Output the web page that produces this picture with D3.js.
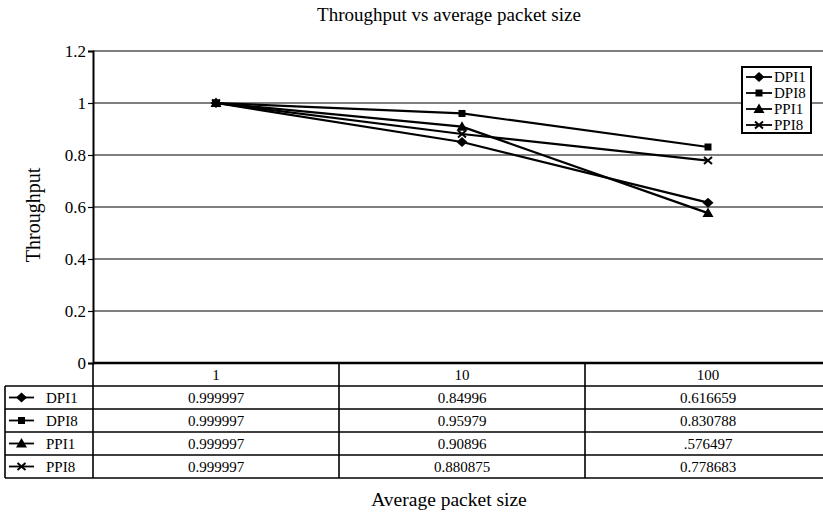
<!DOCTYPE html>
<html><head><meta charset="utf-8">
<script src="https://cdn.jsdelivr.net/npm/d3@7"></script>
<style>body{margin:0;background:#fff}svg{display:block}text{font-family:"Liberation Serif","Times New Roman",serif;fill:#000}</style>
</head><body><svg id="c" width="823" height="512"></svg>
<script>
const categories = ["1", "10", "100"];
const seriesNames = ["DPI1", "DPI8", "PPI1", "PPI8"];
const DPI1 = [0.999997, 0.84996, 0.616659];
const DPI8 = [0.999997, 0.95979, 0.830788];
const PPI1 = [0.999997, 0.90896, 0.576497];
const PPI8 = [0.999997, 0.880875, 0.778683];
const tableLabels = {
  DPI1: ["0.999997", "0.84996", "0.616659"],
  DPI8: ["0.999997", "0.95979", "0.830788"],
  PPI1: ["0.999997", "0.90896", ".576497"],
  PPI8: ["0.999997", "0.880875", "0.778683"]
};
const yTicks = [0, 0.2, 0.4, 0.6, 0.8, 1, 1.2];
const markers = {DPI1: "diamond", DPI8: "square", PPI1: "triangle", PPI8: "cross"};
const seriesValues = {DPI1, DPI8, PPI1, PPI8};

const svg = d3.select("#c");
const L = 93, R = 831, T = 51, B = 363;
const x = d3.scaleBand().domain(categories).range([L, R]).padding(0);
const y = d3.scaleLinear().domain([0, 1.2]).range([B, T]);

function markerPath(type) {
  if (type === "diamond") return "M0,-5L5.5,0L0,5L-5.5,0Z";
  if (type === "square") return "M-3.5,-3.5H3.5V3.5H-3.5Z";
  if (type === "triangle") return "M0,-5.5L5.5,4L-5.5,4Z";
  return "M-4,-3.5L4,3.5M-4,3.5L4,-3.5";
}
function drawMarker(g, type, cx, cy) {
  const p = g.append("path").attr("d", markerPath(type)).attr("transform", `translate(${cx},${cy})`);
  if (type === "cross") p.attr("fill", "none").attr("stroke", "#000").attr("stroke-width", 2);
  else p.attr("fill", "#000");
}

svg.append("text").attr("x", 449).attr("y", 21).attr("text-anchor", "middle").attr("font-size", 19).text("Throughput vs average packet size");

svg.append("g").selectAll("line").data(yTicks.filter(d => d > 0)).join("line")
  .attr("x1", L).attr("x2", 823).attr("y1", d => y(d)).attr("y2", d => y(d))
  .attr("stroke", "#000").attr("stroke-width", 1.2);

const ya = svg.append("g").attr("transform", `translate(${L},0)`)
  .call(d3.axisLeft(y).tickValues(yTicks).tickSize(5).tickFormat(d => String(+d.toFixed(1))));
ya.attr("font-family", null).attr("font-size", null);
ya.select(".domain").attr("stroke", "#000").attr("stroke-width", 2);
ya.selectAll(".tick line").attr("stroke", "#000").attr("stroke-width", 1.2);
ya.selectAll(".tick text").attr("font-size", 17).attr("x", -7);

svg.append("text").attr("transform", "translate(40,215) rotate(-90)").attr("text-anchor", "middle").attr("font-size", 20).text("Throughput");

const line = d3.line().x((d, i) => x(categories[i]) + x.bandwidth() / 2).y(d => y(d));
const lg = svg.append("g");
seriesNames.forEach(s => {
  lg.append("path").datum(seriesValues[s]).attr("d", line).attr("fill", "none").attr("stroke", "#000").attr("stroke-width", 2.2);
});
seriesNames.forEach(s => {
  seriesValues[s].forEach((v, i) => drawMarker(lg, markers[s], x(categories[i]) + x.bandwidth() / 2, y(v)));
});

const rowH = 23;
const tg = svg.append("g");
const hdrTop = B, hdrBot = B + rowH;
const rows = seriesNames.map((s, i) => hdrBot + i * rowH);
const tableBottom = hdrBot + seriesNames.length * rowH;
tg.selectAll("text.hdr").data(categories).join("text").attr("class", "hdr")
  .attr("x", d => x(d) + x.bandwidth() / 2).attr("y", hdrTop + 17).attr("text-anchor", "middle").attr("font-size", 15).text(d => d);
[hdrBot, ...rows.slice(1), tableBottom].forEach(yy => {
  tg.append("line").attr("x1", 5).attr("x2", 823).attr("y1", yy).attr("y2", yy).attr("stroke", "#000").attr("stroke-width", 1.6);
});
categories.forEach(c => {
  tg.append("line").attr("x1", x(c)).attr("x2", x(c)).attr("y1", hdrTop).attr("y2", tableBottom).attr("stroke", "#000").attr("stroke-width", 1.6);
});
tg.append("line").attr("x1", 5).attr("x2", 5).attr("y1", hdrBot).attr("y2", tableBottom).attr("stroke", "#000").attr("stroke-width", 1.6);
svg.append("line").attr("x1", L).attr("x2", 823).attr("y1", B).attr("y2", B).attr("stroke", "#000").attr("stroke-width", 2.5);
seriesNames.forEach((s, i) => {
  const cy = rows[i] + rowH / 2;
  tg.append("line").attr("x1", 9).attr("x2", 34).attr("y1", cy).attr("y2", cy).attr("stroke", "#000").attr("stroke-width", 1.8);
  drawMarker(tg, markers[s], 21.5, cy);
  tg.append("text").attr("x", 46).attr("y", cy + 5).attr("font-size", 15).text(s);
  tableLabels[s].forEach((t, j) => {
    tg.append("text").attr("x", x(categories[j]) + x.bandwidth() / 2).attr("y", cy + 5).attr("text-anchor", "middle").attr("font-size", 15).text(t);
  });
});

svg.append("text").attr("x", 449).attr("y", 506).attr("text-anchor", "middle").attr("font-size", 19.5).text("Average packet size");

// legend
const leg = svg.append("g");
const lx = 742, ly = 67, lw = 69, lh = 66;
leg.append("rect").attr("x", lx).attr("y", ly).attr("width", lw).attr("height", lh).attr("fill", "#fff").attr("stroke", "#000").attr("stroke-width", 2);
seriesNames.forEach((s, i) => {
  const cy = ly + 10 + i * 16;
  leg.append("line").attr("x1", lx + 4).attr("x2", lx + 30).attr("y1", cy).attr("y2", cy).attr("stroke", "#000").attr("stroke-width", 1.8);
  drawMarker(leg, markers[s], lx + 17, cy);
  leg.append("text").attr("x", lx + 32).attr("y", cy + 5).attr("font-size", 15).text(s);
});
</script></body></html>
